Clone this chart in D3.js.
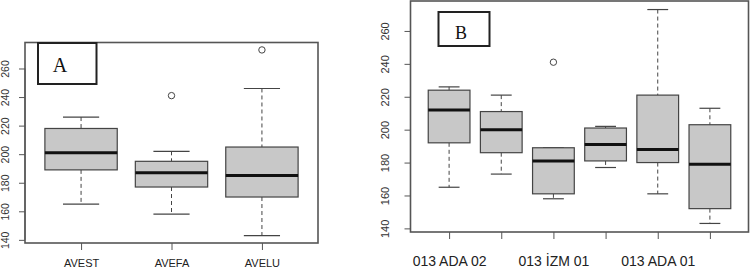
<!DOCTYPE html>
<html>
<head>
<meta charset="utf-8">
<script src="https://cdn.jsdelivr.net/npm/d3@7"></script>
<style>
  body { margin: 0; background: #fff; }
  svg { display: block; }
</style>
</head>
<body>
<svg id="mainSvg" width="750" height="268"></svg>
<script>
// panel A stats: whisker low, Q1, median, Q3, whisker high
var groupsA = ["AVEST", "AVEFA", "AVELU"];
var lowA = [165, 158, 143];
var q1A = [189, 177, 170];
var medA = [201, 187, 185];
var q3A = [218, 195, 205];
var highA = [226, 202, 246];
var outA = [[], [241], [273]];

// panel B
var groupsB = ["013 ADA 02", "", "013 İZM 01", "", "013 ADA 01", ""];
var lowB = [165, 173, 158, 177, 161, 143];
var q1B = [192, 186, 161, 181, 180, 152];
var medB = [212, 200, 181, 191, 188, 179];
var q3B = [224, 211, 189, 201, 221, 203];
var highB = [226, 221, 189, 202, 273, 213];
var outB = [[], [], [241], [], [], []];

var yTicks = [140, 160, 180, 200, 220, 240, 260];

var svg = d3.select("#mainSvg");

function drawPanel(opts) {
  var n = opts.groups.length;
  var pad = n * 0.04;
  var x = d3.scaleLinear().domain([0.5 - pad, n + 0.5 + pad]).range([opts.left, opts.right]);
  var lo = 143, hi = 273;
  var y = d3.scaleLinear().domain([lo - (hi - lo) * 0.04, hi + (hi - lo) * 0.04]).range([opts.bottom, opts.top]);
  var unit = x(2) - x(1);
  var bw = unit * 0.8;

  var g = svg.append("g");

  var rows = opts.groups.map(function (name, i) {
    return { name: name, i: i + 1, low: opts.low[i], q1: opts.q1[i], med: opts.med[i], q3: opts.q3[i], high: opts.high[i], out: opts.out[i] };
  });

  var box = g.selectAll(".bx").data(rows).enter().append("g").attr("class", "bx");

  // whiskers
  box.append("line")
    .attr("x1", function (d) { return x(d.i); }).attr("x2", function (d) { return x(d.i); })
    .attr("y1", function (d) { return y(d.high); }).attr("y2", function (d) { return y(d.q3); })
    .attr("stroke", "#444").attr("stroke-width", 1).attr("stroke-dasharray", "4,3");
  box.append("line")
    .attr("x1", function (d) { return x(d.i); }).attr("x2", function (d) { return x(d.i); })
    .attr("y1", function (d) { return y(d.q1); }).attr("y2", function (d) { return y(d.low); })
    .attr("stroke", "#444").attr("stroke-width", 1).attr("stroke-dasharray", "4,3");
  // caps
  ["high", "low"].forEach(function (k) {
    box.append("line")
      .attr("x1", function (d) { return x(d.i) - bw / 4; }).attr("x2", function (d) { return x(d.i) + bw / 4; })
      .attr("y1", function (d) { return y(d[k]); }).attr("y2", function (d) { return y(d[k]); })
      .attr("stroke", "#444").attr("stroke-width", 1.2);
  });
  // box
  box.append("rect")
    .attr("x", function (d) { return x(d.i) - bw / 2; })
    .attr("width", bw)
    .attr("y", function (d) { return y(d.q3); })
    .attr("height", function (d) { return y(d.q1) - y(d.q3); })
    .attr("fill", "#c8c8c8").attr("stroke", "#444").attr("stroke-width", 1.2);
  // median
  box.append("line")
    .attr("x1", function (d) { return x(d.i) - bw / 2; }).attr("x2", function (d) { return x(d.i) + bw / 2; })
    .attr("y1", function (d) { return y(d.med); }).attr("y2", function (d) { return y(d.med); })
    .attr("stroke", "#111").attr("stroke-width", 3);
  // outliers
  box.selectAll("circle").data(function (d) { return d.out.map(function (v) { return { i: d.i, v: v }; }); })
    .enter().append("circle")
    .attr("cx", function (d) { return x(d.i); })
    .attr("cy", function (d) { return y(d.v); })
    .attr("r", 3.2).attr("fill", "none").attr("stroke", "#444").attr("stroke-width", 1);

  // frame
  g.append("rect")
    .attr("x", opts.left).attr("y", opts.top)
    .attr("width", opts.right - opts.left).attr("height", opts.bottom - opts.top)
    .attr("fill", "none").attr("stroke", "#555").attr("stroke-width", 1.6);

  // y axis
  var yAxis = g.append("g").attr("transform", "translate(" + opts.left + ",0)")
    .call(d3.axisLeft(y).tickValues(yTicks).tickSize(6).tickSizeOuter(0).tickPadding(4));
  yAxis.select(".domain").attr("stroke", "#555").attr("d", "M0," + y(140) + "V" + y(260));
  yAxis.selectAll(".tick line").attr("stroke", "#555");
  yAxis.selectAll(".tick text")
    .attr("font-family", "Liberation Sans, Arial, sans-serif").attr("font-size", opts.yFont)
    .attr("fill", "#333")
    .attr("x", null).attr("dy", null)
    .attr("text-anchor", "middle")
    .attr("transform", "translate(" + opts.yLabDx + ",0) rotate(-90)");

  // x axis
  var xAxis = g.append("g").attr("transform", "translate(0," + opts.bottom + ")")
    .call(d3.axisBottom(x).tickValues(d3.range(1, n + 1)).tickSize(7).tickSizeOuter(0)
      .tickFormat(function (d) { return opts.groups[d - 1]; }));
  xAxis.select(".domain").remove();
  xAxis.selectAll(".tick line").attr("stroke", "#555");
  xAxis.selectAll(".tick text")
    .attr("font-family", "Liberation Sans, Arial, sans-serif").attr("font-size", opts.xFont)
    .attr("fill", "#222").attr("dy", null).attr("y", opts.xLabY);

  // panel label
  g.append("rect")
    .attr("x", opts.lab[0]).attr("y", opts.lab[1]).attr("width", opts.lab[2]).attr("height", opts.lab[3])
    .attr("fill", "#fff").attr("stroke", "#222").attr("stroke-width", 2);
  g.append("text")
    .attr("x", opts.lab[4]).attr("y", opts.lab[5])
    .attr("text-anchor", "middle")
    .attr("font-family", "Liberation Serif, Times New Roman, serif").attr("font-size", opts.labFont)
    .attr("fill", "#111").text(opts.name);
}

drawPanel({
  name: "A", groups: groupsA, low: lowA, q1: q1A, med: medA, q3: q3A, high: highA, out: outA,
  left: 25, right: 318, top: 42.5, bottom: 243,
  yFont: 10.5, yLabDx: -16, xFont: 11, xLabY: 23.5,
  lab: [38, 43, 58.5, 41, 60, 71.5], labFont: 20
});

drawPanel({
  name: "B", groups: groupsB, low: lowB, q1: q1B, med: medB, q3: q3B, high: highB, out: outB,
  left: 410.5, right: 748.5, top: 1, bottom: 232,
  yFont: 11, yLabDx: -21.5, xFont: 14, xLabY: 34,
  lab: [438.5, 12, 51, 34, 461, 38.5], labFont: 18
});
</script>
</body>
</html>
